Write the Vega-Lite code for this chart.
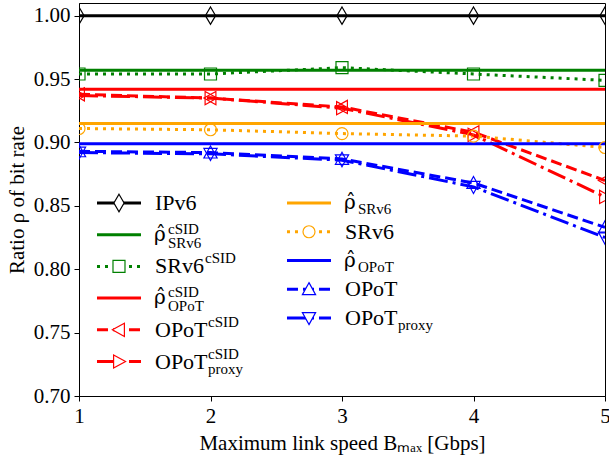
{
  "$schema": "https://vega.github.io/schema/vega-lite/v6.json",
  "width": 526,
  "height": 393,
  "autosize": {"type": "none"},
  "padding": {"left": 79, "top": 3, "right": 4, "bottom": 60},
  "background": "white",
  "config": {
    "view": {"stroke": "black", "strokeWidth": 1},
    "font": "Liberation Serif",
    "legend": {"disable": true},
    "axis": {
      "grid": false,
      "domainColor": "black",
      "tickColor": "black",
      "labelColor": "black",
      "titleColor": "black",
      "labelFont": "Liberation Serif",
      "titleFont": "Liberation Serif",
      "labelFontSize": 21,
      "titleFontSize": 21,
      "titleFontWeight": "normal",
      "tickSize": 5,
      "tickWidth": 1,
      "domainWidth": 1
    },
    "text": {"font": "Liberation Serif", "color": "black"}
  },
  "datasets": {
    "series": [
      {"series": "IPv6", "x": 1, "ratio": 1.0},
      {"series": "IPv6", "x": 2, "ratio": 1.0},
      {"series": "IPv6", "x": 3, "ratio": 1.0},
      {"series": "IPv6", "x": 4, "ratio": 1.0},
      {"series": "IPv6", "x": 5, "ratio": 1.0},
      {"series": "rho_SRv6_cSID", "x": 1, "ratio": 0.957},
      {"series": "rho_SRv6_cSID", "x": 2, "ratio": 0.957},
      {"series": "rho_SRv6_cSID", "x": 3, "ratio": 0.957},
      {"series": "rho_SRv6_cSID", "x": 4, "ratio": 0.957},
      {"series": "rho_SRv6_cSID", "x": 5, "ratio": 0.957},
      {"series": "SRv6_cSID", "x": 1, "ratio": 0.954},
      {"series": "SRv6_cSID", "x": 2, "ratio": 0.954},
      {"series": "SRv6_cSID", "x": 3, "ratio": 0.959},
      {"series": "SRv6_cSID", "x": 4, "ratio": 0.954},
      {"series": "SRv6_cSID", "x": 5, "ratio": 0.949},
      {"series": "rho_OPoT_cSID", "x": 1, "ratio": 0.942},
      {"series": "rho_OPoT_cSID", "x": 2, "ratio": 0.942},
      {"series": "rho_OPoT_cSID", "x": 3, "ratio": 0.942},
      {"series": "rho_OPoT_cSID", "x": 4, "ratio": 0.942},
      {"series": "rho_OPoT_cSID", "x": 5, "ratio": 0.942},
      {"series": "OPoT_cSID", "x": 1, "ratio": 0.938},
      {"series": "OPoT_cSID", "x": 2, "ratio": 0.935},
      {"series": "OPoT_cSID", "x": 3, "ratio": 0.928},
      {"series": "OPoT_cSID", "x": 4, "ratio": 0.908},
      {"series": "OPoT_cSID", "x": 5, "ratio": 0.870},
      {"series": "OPoT_proxy_cSID", "x": 1, "ratio": 0.937},
      {"series": "OPoT_proxy_cSID", "x": 2, "ratio": 0.935},
      {"series": "OPoT_proxy_cSID", "x": 3, "ratio": 0.927},
      {"series": "OPoT_proxy_cSID", "x": 4, "ratio": 0.906},
      {"series": "OPoT_proxy_cSID", "x": 5, "ratio": 0.857},
      {"series": "rho_SRv6", "x": 1, "ratio": 0.915},
      {"series": "rho_SRv6", "x": 2, "ratio": 0.915},
      {"series": "rho_SRv6", "x": 3, "ratio": 0.915},
      {"series": "rho_SRv6", "x": 4, "ratio": 0.915},
      {"series": "rho_SRv6", "x": 5, "ratio": 0.915},
      {"series": "SRv6", "x": 1, "ratio": 0.911},
      {"series": "SRv6", "x": 2, "ratio": 0.910},
      {"series": "SRv6", "x": 3, "ratio": 0.907},
      {"series": "SRv6", "x": 4, "ratio": 0.905},
      {"series": "SRv6", "x": 5, "ratio": 0.896},
      {"series": "rho_OPoT", "x": 1, "ratio": 0.899},
      {"series": "rho_OPoT", "x": 2, "ratio": 0.899},
      {"series": "rho_OPoT", "x": 3, "ratio": 0.899},
      {"series": "rho_OPoT", "x": 4, "ratio": 0.899},
      {"series": "rho_OPoT", "x": 5, "ratio": 0.899},
      {"series": "OPoT", "x": 1, "ratio": 0.893},
      {"series": "OPoT", "x": 2, "ratio": 0.892},
      {"series": "OPoT", "x": 3, "ratio": 0.887},
      {"series": "OPoT", "x": 4, "ratio": 0.868},
      {"series": "OPoT", "x": 5, "ratio": 0.833},
      {"series": "OPoT_proxy", "x": 1, "ratio": 0.892},
      {"series": "OPoT_proxy", "x": 2, "ratio": 0.891},
      {"series": "OPoT_proxy", "x": 3, "ratio": 0.886},
      {"series": "OPoT_proxy", "x": 4, "ratio": 0.865},
      {"series": "OPoT_proxy", "x": 5, "ratio": 0.825}
    ],
    "legend": [
      {"series": "IPv6", "base": "IPv6", "sup": "", "sub": "", "col": 0, "row": 0},
      {"series": "rho_SRv6_cSID", "base": "ρ̂", "sup": "cSID", "sub": "SRv6", "col": 0, "row": 1},
      {"series": "SRv6_cSID", "base": "SRv6", "sup": "cSID", "sub": "", "col": 0, "row": 2},
      {"series": "rho_OPoT_cSID", "base": "ρ̂", "sup": "cSID", "sub": "OPoT", "col": 0, "row": 3},
      {"series": "OPoT_cSID", "base": "OPoT", "sup": "cSID", "sub": "", "col": 0, "row": 4},
      {"series": "OPoT_proxy_cSID", "base": "OPoT", "sup": "cSID", "sub": "proxy", "col": 0, "row": 5},
      {"series": "rho_SRv6", "base": "ρ̂", "sup": "", "sub": "SRv6", "col": 1, "row": 0},
      {"series": "SRv6", "base": "SRv6", "sup": "", "sub": "", "col": 1, "row": 1},
      {"series": "rho_OPoT", "base": "ρ̂", "sup": "", "sub": "OPoT", "col": 1, "row": 2},
      {"series": "OPoT", "base": "OPoT", "sup": "", "sub": "", "col": 1, "row": 3},
      {"series": "OPoT_proxy", "base": "OPoT", "sup": "", "sub": "proxy", "col": 1, "row": 4}
    ]
  },
  "layer": [
    {
      "data": {"name": "series"},
      "encoding": {
        "x": {"field": "x", "type": "quantitative", "scale": {"domain": [1, 5], "nice": false, "zero": false},
          "axis": {"values": [1, 2, 3, 4, 5], "format": "d", "labelPadding": 4, "titlePadding": 6, "labelFlush": false, "labelOverlap": false, "title": "Maximum link speed Bₘₐₓ [Gbps]"}},
        "y": {"field": "ratio", "type": "quantitative", "scale": {"domain": [0.7, 1.01], "nice": false, "zero": false},
          "axis": {"values": [0.7, 0.75, 0.8, 0.85, 0.9, 0.95, 1.0], "format": ".2f", "labelPadding": 4, "titlePadding": 6, "labelFlush": false, "labelOverlap": false, "title": "Ratio ρ of bit rate"}}
      },
      "layer": [
        {
          "mark": {"type": "line", "strokeWidth": 3, "clip": true},
          "encoding": {
            "color": {"field": "series", "type": "nominal", "scale": {"domain": ["IPv6","rho_SRv6_cSID","SRv6_cSID","rho_OPoT_cSID","OPoT_cSID","OPoT_proxy_cSID","rho_SRv6","SRv6","rho_OPoT","OPoT","OPoT_proxy"], "range": ["black","#008000","#008000","#ff0000","#ff0000","#ff0000","#ffa500","#ffa500","#0000ff","#0000ff","#0000ff"]}},
            "strokeDash": {"field": "series", "type": "nominal", "scale": {"domain": ["IPv6","rho_SRv6_cSID","SRv6_cSID","rho_OPoT_cSID","OPoT_cSID","OPoT_proxy_cSID","rho_SRv6","SRv6","rho_OPoT","OPoT","OPoT_proxy"], "range": [[1,0],[1,0],[3,5],[1,0],[11,5],[19,5,3,5],[1,0],[3,5],[1,0],[11,5],[19,5,3,5]]}}
          }
        },
        {
          "transform": [{"filter": "indexof(datum.series, 'rho_') < 0"}],
          "mark": {"type": "point", "filled": false, "size": 144, "strokeWidth": 1.2, "clip": true, "opacity": 1},
          "encoding": {
            "color": {"field": "series", "type": "nominal", "scale": {"domain": ["IPv6","rho_SRv6_cSID","SRv6_cSID","rho_OPoT_cSID","OPoT_cSID","OPoT_proxy_cSID","rho_SRv6","SRv6","rho_OPoT","OPoT","OPoT_proxy"], "range": ["black","#008000","#008000","#ff0000","#ff0000","#ff0000","#ffa500","#ffa500","#0000ff","#0000ff","#0000ff"]}},
            "shape": {"field": "series", "type": "nominal", "scale": {"domain": ["IPv6","rho_SRv6_cSID","SRv6_cSID","rho_OPoT_cSID","OPoT_cSID","OPoT_proxy_cSID","rho_SRv6","SRv6","rho_OPoT","OPoT","OPoT_proxy"], "range": ["M0,-1.45L0.85,0L0,1.45L-0.85,0Z","circle","M-1,-1L1,-1L1,1L-1,1Z","circle","M-1.1,0L0.9,-1.1L0.9,1.1Z","M1.1,0L-0.9,-1.1L-0.9,1.1Z","circle","M1,0A1,1,0,1,1,-1,0A1,1,0,1,1,1,0Z","circle","M0,-1.1L1.1,0.9L-1.1,0.9Z","M0,1.1L1.1,-0.9L-1.1,-0.9Z"]}}
          }
        }
      ]
    },
    {
      "data": {"name": "legend"},
      "transform": [{"filter": "datum.col == 0"}],
      "encoding": {
        "x": {"field": "col", "type": "quantitative", "scale": {"domain": [-0.0947, 2.6737], "nice": false, "zero": false}, "axis": null},
        "y": {"field": "row", "type": "quantitative", "scale": {"domain": [-6.309, 6.088], "nice": false, "zero": false, "reverse": true}, "axis": null}
      },
      "layer": [
        {
          "mark": {"type": "rule", "x2Offset": 44, "strokeWidth": 3},
          "encoding": {
            "x2": {"field": "col"},
            "color": {"field": "series", "type": "nominal", "scale": {"domain": ["IPv6","rho_SRv6_cSID","SRv6_cSID","rho_OPoT_cSID","OPoT_cSID","OPoT_proxy_cSID","rho_SRv6","SRv6","rho_OPoT","OPoT","OPoT_proxy"], "range": ["black","#008000","#008000","#ff0000","#ff0000","#ff0000","#ffa500","#ffa500","#0000ff","#0000ff","#0000ff"]}},
            "strokeDash": {"field": "series", "type": "nominal", "scale": {"domain": ["IPv6","rho_SRv6_cSID","SRv6_cSID","rho_OPoT_cSID","OPoT_cSID","OPoT_proxy_cSID","rho_SRv6","SRv6","rho_OPoT","OPoT","OPoT_proxy"], "range": [[1,0],[1,0],[3,5],[1,0],[11,5],[19,5,3,5],[1,0],[3,5],[1,0],[11,5],[19,5,3,5]]}}
          }
        },
        {
          "transform": [{"filter": "indexof(datum.series, 'rho_') < 0"}],
          "mark": {"type": "point", "filled": true, "fill": "white", "size": 144, "strokeWidth": 1.2, "xOffset": 22, "opacity": 1},
          "encoding": {
            "stroke": {"field": "series", "type": "nominal", "scale": {"domain": ["IPv6","rho_SRv6_cSID","SRv6_cSID","rho_OPoT_cSID","OPoT_cSID","OPoT_proxy_cSID","rho_SRv6","SRv6","rho_OPoT","OPoT","OPoT_proxy"], "range": ["black","#008000","#008000","#ff0000","#ff0000","#ff0000","#ffa500","#ffa500","#0000ff","#0000ff","#0000ff"]}},
            "shape": {"field": "series", "type": "nominal", "scale": {"domain": ["IPv6","rho_SRv6_cSID","SRv6_cSID","rho_OPoT_cSID","OPoT_cSID","OPoT_proxy_cSID","rho_SRv6","SRv6","rho_OPoT","OPoT","OPoT_proxy"], "range": ["M0,-1.45L0.85,0L0,1.45L-0.85,0Z","circle","M-1,-1L1,-1L1,1L-1,1Z","circle","M-1.1,0L0.9,-1.1L0.9,1.1Z","M1.1,0L-0.9,-1.1L-0.9,1.1Z","circle","M1,0A1,1,0,1,1,-1,0A1,1,0,1,1,1,0Z","circle","M0,-1.1L1.1,0.9L-1.1,0.9Z","M0,1.1L1.1,-0.9L-1.1,-0.9Z"]}}
          }
        },
        {"transform": [{"filter": "datum.base != 'ρ̂'"}], "mark": {"type": "text", "dx": 58, "dy": 7, "align": "left", "baseline": "alphabetic", "fontSize": 22}, "encoding": {"text": {"field": "base"}}},
        {"transform": [{"filter": "datum.base == 'ρ̂'"}], "mark": {"type": "text", "dx": 57, "dy": 6, "align": "left", "baseline": "alphabetic", "fontSize": 20, "font": "DejaVu Serif"}, "encoding": {"text": {"field": "base"}}},
        {"transform": [{"filter": "datum.base == 'ρ̂' && datum.sup != ''"}], "mark": {"type": "text", "dx": 71, "dy": -1, "align": "left", "baseline": "alphabetic", "fontSize": 15}, "encoding": {"text": {"field": "sup"}}},
        {"transform": [{"filter": "datum.base == 'ρ̂' && datum.sub != ''"}], "mark": {"type": "text", "dx": 71, "dy": 13, "align": "left", "baseline": "alphabetic", "fontSize": 15}, "encoding": {"text": {"field": "sub"}}},
        {"transform": [{"filter": "datum.base == 'SRv6' && datum.sup != ''"}], "mark": {"type": "text", "dx": 108, "dy": -3, "align": "left", "baseline": "alphabetic", "fontSize": 15}, "encoding": {"text": {"field": "sup"}}},
        {"transform": [{"filter": "datum.base == 'OPoT' && datum.sup != ''"}], "mark": {"type": "text", "dx": 111, "dy": -3, "align": "left", "baseline": "alphabetic", "fontSize": 15}, "encoding": {"text": {"field": "sup"}}},
        {"transform": [{"filter": "datum.base == 'OPoT' && datum.sub != ''"}], "mark": {"type": "text", "dx": 111, "dy": 12, "align": "left", "baseline": "alphabetic", "fontSize": 15}, "encoding": {"text": {"field": "sub"}}}
      ]
    },
    {
      "data": {"name": "legend"},
      "transform": [{"filter": "datum.col == 1"}],
      "encoding": {
        "x": {"field": "col", "type": "quantitative", "scale": {"domain": [-0.0947, 2.6737], "nice": false, "zero": false}, "axis": null},
        "y": {"field": "row", "type": "quantitative", "scale": {"domain": [-6.957, 6.713], "nice": false, "zero": false, "reverse": true}, "axis": null}
      },
      "layer": [
        {
          "mark": {"type": "rule", "x2Offset": 44, "strokeWidth": 3},
          "encoding": {
            "x2": {"field": "col"},
            "color": {"field": "series", "type": "nominal", "scale": {"domain": ["IPv6","rho_SRv6_cSID","SRv6_cSID","rho_OPoT_cSID","OPoT_cSID","OPoT_proxy_cSID","rho_SRv6","SRv6","rho_OPoT","OPoT","OPoT_proxy"], "range": ["black","#008000","#008000","#ff0000","#ff0000","#ff0000","#ffa500","#ffa500","#0000ff","#0000ff","#0000ff"]}},
            "strokeDash": {"field": "series", "type": "nominal", "scale": {"domain": ["IPv6","rho_SRv6_cSID","SRv6_cSID","rho_OPoT_cSID","OPoT_cSID","OPoT_proxy_cSID","rho_SRv6","SRv6","rho_OPoT","OPoT","OPoT_proxy"], "range": [[1,0],[1,0],[3,5],[1,0],[11,5],[19,5,3,5],[1,0],[3,5],[1,0],[11,5],[19,5,3,5]]}}
          }
        },
        {
          "transform": [{"filter": "indexof(datum.series, 'rho_') < 0"}],
          "mark": {"type": "point", "filled": true, "fill": "white", "size": 144, "strokeWidth": 1.2, "xOffset": 22, "opacity": 1},
          "encoding": {
            "stroke": {"field": "series", "type": "nominal", "scale": {"domain": ["IPv6","rho_SRv6_cSID","SRv6_cSID","rho_OPoT_cSID","OPoT_cSID","OPoT_proxy_cSID","rho_SRv6","SRv6","rho_OPoT","OPoT","OPoT_proxy"], "range": ["black","#008000","#008000","#ff0000","#ff0000","#ff0000","#ffa500","#ffa500","#0000ff","#0000ff","#0000ff"]}},
            "shape": {"field": "series", "type": "nominal", "scale": {"domain": ["IPv6","rho_SRv6_cSID","SRv6_cSID","rho_OPoT_cSID","OPoT_cSID","OPoT_proxy_cSID","rho_SRv6","SRv6","rho_OPoT","OPoT","OPoT_proxy"], "range": ["M0,-1.45L0.85,0L0,1.45L-0.85,0Z","circle","M-1,-1L1,-1L1,1L-1,1Z","circle","M-1.1,0L0.9,-1.1L0.9,1.1Z","M1.1,0L-0.9,-1.1L-0.9,1.1Z","circle","M1,0A1,1,0,1,1,-1,0A1,1,0,1,1,1,0Z","circle","M0,-1.1L1.1,0.9L-1.1,0.9Z","M0,1.1L1.1,-0.9L-1.1,-0.9Z"]}}
          }
        },
        {"transform": [{"filter": "datum.base != 'ρ̂'"}], "mark": {"type": "text", "dx": 58, "dy": 7, "align": "left", "baseline": "alphabetic", "fontSize": 22}, "encoding": {"text": {"field": "base"}}},
        {"transform": [{"filter": "datum.base == 'ρ̂'"}], "mark": {"type": "text", "dx": 57, "dy": 6, "align": "left", "baseline": "alphabetic", "fontSize": 20, "font": "DejaVu Serif"}, "encoding": {"text": {"field": "base"}}},
        {"transform": [{"filter": "datum.base == 'ρ̂' && datum.sub != ''"}], "mark": {"type": "text", "dx": 71, "dy": 11, "align": "left", "baseline": "alphabetic", "fontSize": 15}, "encoding": {"text": {"field": "sub"}}},
        {"transform": [{"filter": "datum.base == 'OPoT' && datum.sub != ''"}], "mark": {"type": "text", "dx": 111, "dy": 12, "align": "left", "baseline": "alphabetic", "fontSize": 15}, "encoding": {"text": {"field": "sub"}}}
      ]
    }
  ],
  "resolve": {"scale": {"x": "independent", "y": "independent"}}
}
